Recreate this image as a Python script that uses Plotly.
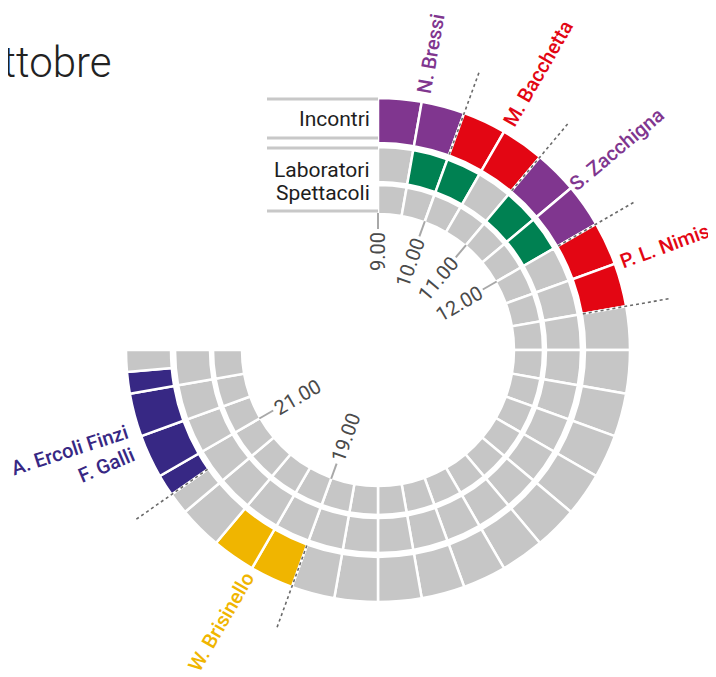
import math
import plotly.graph_objects as go

# ---------------- data ----------------
DAY_START = 9.0        # hour shown at 12 o'clock
DEG_PER_HOUR = 20.0    # 270 degrees for 13.5 hours

# Incontri (outer ring): segment edges in hours and who speaks in each segment
incontri_edges = [9.0, 9.5, 10.0, 10.5, 11.0, 11.5, 12.0, 12.5, 13.0,
                  13.5, 14.0, 14.5, 15.0, 15.5, 16.0, 16.5, 17.0, 17.5, 18.0, 18.5, 19.0,
                  19.5, 20.0, 20.5, 20.75, 21.0, 21.5, 22.0, 22.25, 22.5]
incontri_who = ["N. Bressi", "N. Bressi", "M. Bacchetta", "M. Bacchetta",
                "S. Zacchigna", "S. Zacchigna", "P. L. Nimis", "P. L. Nimis",
                "", "", "", "", "", "", "", "", "", "", "", "",
                "W. Brisinello", "W. Brisinello", "", "",
                "A. Ercoli Finzi", "A. Ercoli Finzi", "A. Ercoli Finzi", "A. Ercoli Finzi",
                ""]

# Laboratori (middle ring) and Spettacoli (inner ring): half-hour slots
slot_start = [9.0, 9.5, 10.0, 10.5, 11.0, 11.5, 12.0, 12.5, 13.0, 13.5, 14.0, 14.5,
              15.0, 15.5, 16.0, 16.5, 17.0, 17.5, 18.0, 18.5, 19.0, 19.5, 20.0, 20.5,
              21.0, 21.5, 22.0]
laboratori_active = [0, 1, 1, 0, 1, 1, 0, 0, 0, 0, 0, 0, 0, 0,
                     0, 0, 0, 0, 0, 0, 0, 0, 0, 0, 0, 0, 0]
spettacoli_active = [0, 0, 0, 0, 0, 0, 0, 0, 0, 0, 0, 0, 0, 0,
                     0, 0, 0, 0, 0, 0, 0, 0, 0, 0, 0, 0, 0]

# speaker labels: text, hour at which the label sits
label_text = ["N. Bressi", "M. Bacchetta", "S. Zacchigna", "P. L. Nimis",
              "W. Brisinello", "A. Ercoli Finzi", "F. Galli"]
label_hour = [9.5, 10.5, 11.5, 12.5, 19.5, 21.6, 21.35]
label_group = ["N. Bressi", "M. Bacchetta", "S. Zacchigna", "P. L. Nimis",
               "W. Brisinello", "A. Ercoli Finzi", "A. Ercoli Finzi"]

# dotted separators (hours)
separator_hours = [10.0, 11.0, 12.0, 13.0, 19.0, 20.75]

# hour ticks
tick_hours = [9, 10, 11, 12, 19, 21]
tick_labels = ["9.00", "10.00", "11.00", "12.00", "19.00", "21.00"]

ring_names = ["Incontri", "Laboratori", "Spettacoli"]
title_text = "ottobre"

# ---------------- style ----------------
W, H = 716, 677
PAGE_OFFSET = 8            # default page margin of the html body
CX, CY = 378, 350          # centre of the rings (px in the screenshot)
R = 320                    # radial axis range (1 unit = 1 px)
GRAY = "#c6c6c6"
colors = {"N. Bressi": "#80368f", "M. Bacchetta": "#e30613",
          "S. Zacchigna": "#80368f", "P. L. Nimis": "#e30613",
          "W. Brisinello": "#f0b500", "A. Ercoli Finzi": "#372884", "": GRAY}
LAB_COLOR = "#008152"
FONT = "Roboto"

outer_base, outer_top = 207, 252
mid_base, mid_top = 168, 203
inner_base, inner_top = 136, 165

label_radius = [301, 319, 312, 305, 314, 324, 295]
tick_label_radius = [98, 93, 93, 93, 93, 93]


def px_x(px):
    return (px - PAGE_OFFSET) / W


def px_y(py):
    return 1 - (py - PAGE_OFFSET) / H


def angle(h):
    return (h - DAY_START) * DEG_PER_HOUR


def to_paper(h, r):
    a = math.radians(angle(h))
    return px_x(CX + r * math.sin(a)), px_y(CY - r * math.cos(a))


fig = go.Figure()

# outer ring
o_theta = [(angle(a) + angle(b)) / 2 for a, b in zip(incontri_edges[:-1], incontri_edges[1:])]
o_width = [angle(b) - angle(a) for a, b in zip(incontri_edges[:-1], incontri_edges[1:])]
fig.add_trace(go.Barpolar(
    theta=o_theta, width=o_width,
    r=[outer_top - outer_base] * len(o_theta), base=outer_base,
    marker=dict(color=[colors[w] for w in incontri_who], line=dict(color="white", width=2.5)),
    hoverinfo="skip", showlegend=False))

s_theta = [angle(s) + DEG_PER_HOUR / 4 for s in slot_start]
s_width = [DEG_PER_HOUR / 2] * len(slot_start)
fig.add_trace(go.Barpolar(
    theta=s_theta, width=s_width,
    r=[mid_top - mid_base] * len(s_theta), base=mid_base,
    marker=dict(color=[LAB_COLOR if v else GRAY for v in laboratori_active],
                line=dict(color="white", width=2.5)),
    hoverinfo="skip", showlegend=False))
fig.add_trace(go.Barpolar(
    theta=s_theta, width=s_width,
    r=[inner_top - inner_base] * len(s_theta), base=inner_base,
    marker=dict(color=[GRAY if not v else "#888" for v in spettacoli_active],
                line=dict(color="white", width=2.5)),
    hoverinfo="skip", showlegend=False))

# dotted separators
for h in separator_hours:
    fig.add_trace(go.Scatterpolar(
        r=[outer_base + 1, 296], theta=[angle(h), angle(h)], mode="lines",
        line=dict(color="#6a6a6a", width=1.6, dash="3px,3px"),
        hoverinfo="skip", showlegend=False))

# hour tick lines
for h in tick_hours:
    fig.add_trace(go.Scatterpolar(
        r=[inner_base + 1, 121], theta=[angle(h), angle(h)], mode="lines",
        line=dict(color="#a8a8a8", width=2),
        hoverinfo="skip", showlegend=False))

annotations = []
# speaker labels
for txt, h, grp, rr in zip(label_text, label_hour, label_group, label_radius):
    a = angle(h)
    ta = a - 90 if a <= 180 else a - 270
    x, y = to_paper(h, rr)
    annotations.append(dict(x=x, y=y, xref="paper", yref="paper", text=txt,
                            showarrow=False, textangle=ta, xanchor="center", yanchor="middle",
                            font=dict(family=FONT, size=20, color=colors[grp], weight=500)))
# hour labels
for h, txt, rr in zip(tick_hours, tick_labels, tick_label_radius):
    a = angle(h)
    ta = a - 90 if a <= 180 else a - 270
    x, y = to_paper(h, rr)
    annotations.append(dict(x=x, y=y, xref="paper", yref="paper", text=txt,
                            showarrow=False, textangle=ta, xanchor="center", yanchor="middle",
                            font=dict(family=FONT, size=20, color="#4a4a4a")))

# ring headers
header_y = [119, 170, 193]
for name, py in zip(ring_names, header_y):
    annotations.append(dict(x=px_x(372), y=px_y(py), xref="paper", yref="paper", text=name,
                            showarrow=False, xanchor="right", yanchor="middle",
                            font=dict(family=FONT, size=21, color="#1e1e1e")))

# title (cropped at left edge)
annotations.append(dict(x=px_x(113), y=px_y(62), xref="paper", yref="paper", text=title_text,
                        showarrow=False, xanchor="right", yanchor="middle",
                        font=dict(family=FONT, size=42, color="#222222", weight=300)))

# header rules
shapes = []
for r_line in [outer_top - 1, outer_base + 5, mid_top - 1, inner_base + 3]:
    py = CY - r_line
    shapes.append(dict(type="line", xref="paper", yref="paper",
                       x0=px_x(267), x1=px_x(CX), y0=px_y(py), y1=px_y(py),
                       line=dict(color="#c8c8c8", width=3)))

cx_p = CX - PAGE_OFFSET
cy_p = H - (CY - PAGE_OFFSET)
fig.update_layout(
    width=W, height=H, margin=dict(l=0, r=0, t=0, b=0),
    paper_bgcolor="white", plot_bgcolor="white",
    polar=dict(
        domain=dict(x=[(cx_p - R) / W, (cx_p + R) / W], y=[(cy_p - R) / H, (cy_p + R) / H]),
        bgcolor="rgba(0,0,0,0)", barmode="overlay", bargap=0,
        radialaxis=dict(visible=False, range=[0, R]),
        angularaxis=dict(visible=False, rotation=90, direction="clockwise"),
    ),
    annotations=annotations, shapes=shapes, showlegend=False,
)

fig.write_html("out.html")
